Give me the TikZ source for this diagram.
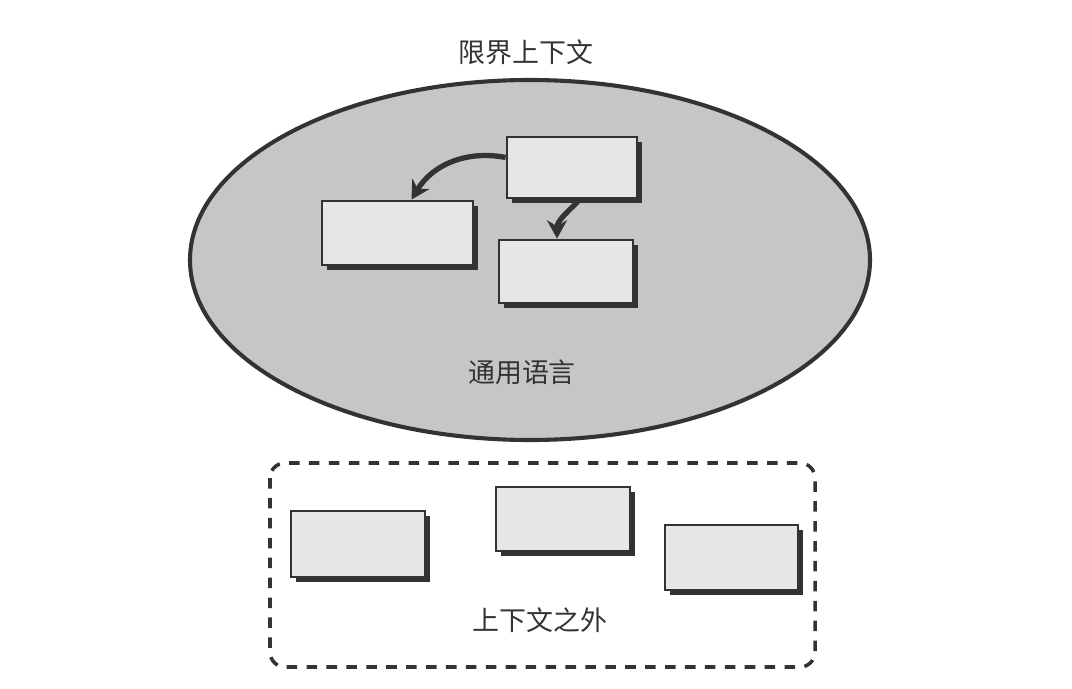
\documentclass[tikz,border=0pt]{standalone}
\usepackage{fontspec}
\setmainfont{Noto Sans CJK SC}
\usepackage{tikz}
\usepackage{xcolor}
\usetikzlibrary{arrows.meta, shadows, calc, positioning}

\definecolor{ringgray}{HTML}{C6C6C6}
\definecolor{boxgray}{HTML}{E6E6E6}
\definecolor{inkgray}{HTML}{333333}

\begin{document}
\begin{tikzpicture}[x=0.03cm, y=0.03cm,
    objbox/.style={rectangle, draw=inkgray, line width=2.4pt, fill=boxgray, inner sep=0pt,
        drop shadow={shadow xshift=0.15cm, shadow yshift=-0.15cm, fill=inkgray, opacity=1}},
    label text/.style={text=inkgray, font=\fontsize{23}{26}\selectfont},
    link/.style={draw=inkgray, line width=4.5pt, -{Stealth[length=0.55cm, width=0.6cm, inset=0.18cm]}}]
    \useasboundingbox (0, 0) rectangle (1072, 688);
    \fill[white] (0, 0) rectangle (1072, 688);
    % bounded context
    \draw[draw=inkgray, line width=3.5pt, fill=ringgray] (530, 428) ellipse [x radius=340, y radius=180];
    \node[label text] (title) at (526, 636) {限界上下文};
    \node[label text] (lang) at (522, 316) {通用语言};
    \node[objbox, minimum width=3.9cm, minimum height=1.83cm] (a) at (572, 520.5) {};
    \node[objbox, minimum width=4.53cm, minimum height=1.92cm] (b) at (397.5, 455) {};
    \node[objbox, minimum width=4.02cm, minimum height=1.89cm] (c) at (566, 416.5) {};
    \draw[link] ($(a.west)+(0, 10)$) to[bend right=35] ($(b.north)+(14, 0)$);
    \draw[link] ($(a.south)+(8, 0)$) to[out=-135, in=90] ($(c.north)+(-9, 0)$);
    % outside the context
    \draw[draw=inkgray, line width=3pt, dash pattern=on 9pt off 8pt, rounded corners=0.45cm]
        (270, 225) rectangle (815, 21);
    \node[objbox, minimum width=4.02cm, minimum height=1.98cm] (d) at (358, 144) {};
    \node[objbox, minimum width=4.02cm, minimum height=1.92cm] (e) at (563, 169) {};
    \node[objbox, minimum width=3.99cm, minimum height=1.95cm] (f) at (731.5, 130.5) {};
    \node[label text] (outside) at (540, 68) {上下文之外};
\end{tikzpicture}
\end{document}
